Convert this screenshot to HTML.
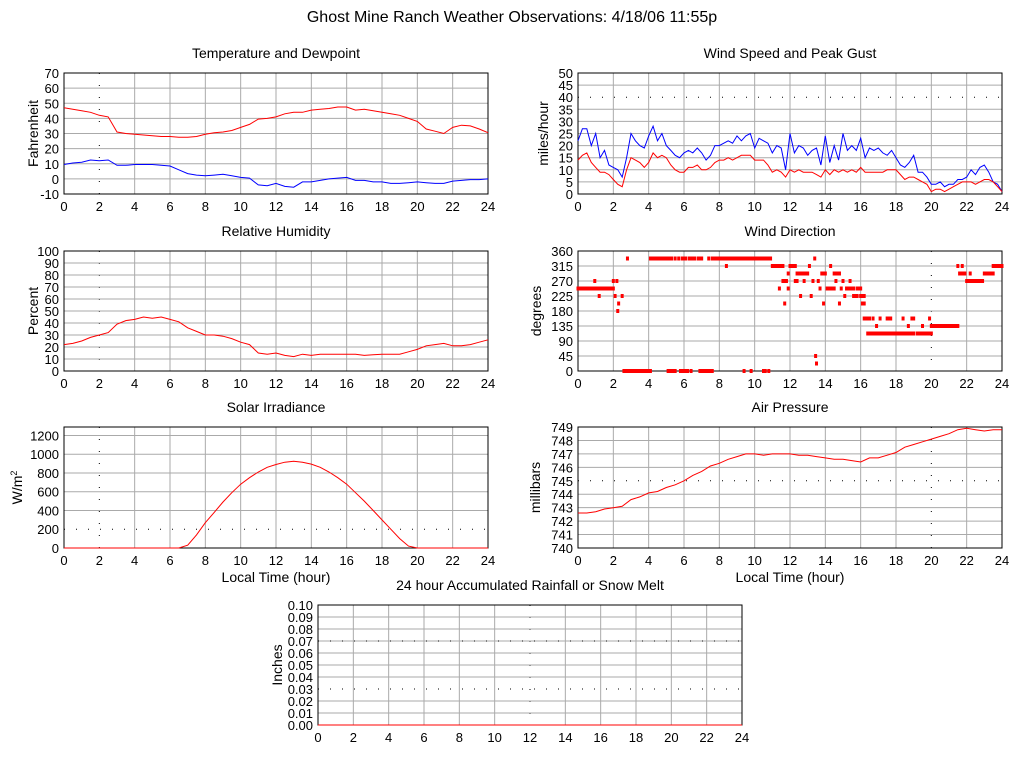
<!DOCTYPE html>
<html><head><meta charset="utf-8"><style>
html,body{margin:0;padding:0;background:#fff}
svg{display:block;font-family:"Liberation Sans",Arial,sans-serif}
</style></head><body>
<svg id="chart" width="1024" height="768" viewBox="0 0 1024 768" xmlns="http://www.w3.org/2000/svg">
<rect width="1024" height="768" fill="#fff"/>
<text x="512" y="22" text-anchor="middle" font-size="16">Ghost Mine Ranch Weather Observations: 4/18/06 11:55p</text>
</svg>
<script>
// ---- data ----
const hoursHalf = [0,0.5,1,1.5,2,2.5,3,3.5,4,4.5,5,5.5,6,6.5,7,7.5,8,8.5,9,9.5,10,10.5,11,11.5,12,12.5,13,13.5,14,14.5,15,15.5,16,16.5,17,17.5,18,18.5,19,19.5,20,20.5,21,21.5,22,22.5,23,23.5,24];
const temperature = [47,46,45,44,42,41,31,30,29.5,29,28.5,28,28,27.5,27.5,28,29.5,30.5,31,32,34,36,39.5,40,41,43,44,44,45.5,46,46.5,47.5,47.5,45.5,46,45,44,43,42,40,38,33,31.5,30,34,35.5,35,33,30.5];
const dewpoint = [9.5,10.5,11,12.5,12,12.5,9,9,9.5,9.5,9.5,9,8.5,6,3.5,2.5,2,2.5,3,2,1,0.5,-4,-4.5,-3,-5,-5.5,-2,-2,-1,0,0.5,1,-1,-1,-2,-2,-3,-3,-2.5,-2,-2.5,-3,-3,-1.5,-1,-0.5,-0.5,0];
const humidity = [22,23,25,28,30,32,39,42,43,45,44,45,43,41,36,33,30,30,29,27,24,22,15,14,15,13,12,14,13,14,14,14,14,14,13,13.5,14,14,14,16,18,21,22,23,21,21,22,24,26];
const solar = [0,0,0,0,0,0,0,0,0,0,0,0,0,0,30,140,270,380,490,590,680,750,810,860,890,915,925,915,895,860,810,750,680,590,500,400,300,200,100,20,0,0,0,0,0,0,0,0,0];
const pressure = [742.6,742.6,742.7,742.9,743,743.1,743.6,743.8,744.1,744.2,744.5,744.7,745,745.4,745.7,746.1,746.3,746.6,746.8,747,747,746.9,747,747,747,746.9,746.9,746.8,746.7,746.6,746.6,746.5,746.4,746.7,746.7,746.9,747.1,747.5,747.7,747.9,748.1,748.3,748.5,748.8,748.9,748.8,748.7,748.8,748.8];
const windGust = [22,27,27,20,25,15,18,12,11,10,7,15,25,22,20,19,24,28,22,25,20,18,16,15,17,18,17,19,17,14,16,20,20,21,22,21,24,22,24,25,19,23,22,21,17,20,19,10,25,17,20,19,16,18,19,12,24,13,20,14,25,18,20,18,23,15,19,18,19,17,16,18,15,12,11,13,16,9,9,7,4,4,5,3,4,4,6,6,7,10,8,11,12,9,5,4,1];
const windAvg = [14,16,17,13,11,9,9,8,6,4,3,10,15,14,13,11,13,17,15,16,15,12,10,9,9,11,11,12,10,10,11,13,14,14,15,14,15,16,16,16,14,14,14,12,9,10,9,7,10,9,10,9,9,9,8,7,10,8,10,9,10,9,10,9,11,9,9,9,9,9,10,10,10,8,6,7,7,6,5,4,1,2,2,1,2,3,4,5,5,5,4,5,6,6,5,3,1];
const dirStart = [0,0.95,1.2,2.0,2.1,2.2,2.25,2.3,2.5,2.8,2.6,4.1,5.5,5.7,5.9,6.3,6.8,7.4,7.6,8.4,5.1,5.8,6.4,6.9,9.4,9.8,10.5,10.8,11.0,11.4,11.6,11.7,11.9,11.9,12.0,12.3,12.4,12.6,12.7,12.8,13.1,13.2,13.3,13.4,13.45,13.5,13.6,13.7,13.8,13.9,14.1,14.3,14.5,14.6,14.8,14.9,15.0,15.1,15.2,15.4,15.6,15.8,16.0,16.1,16.2,16.4,16.5,16.7,16.9,17.1,17.5,18.0,18.4,18.7,18.9,19.0,19.2,19.5,19.7,19.9,20.0,21.5,21.6,21.75,22.0,22.2,23.0,23.5];
const dirEnd = [2.0,0.95,1.2,2.0,2.1,2.2,2.25,2.3,2.5,2.8,4.1,5.3,5.5,5.7,6.1,6.6,7.0,7.4,10.9,8.4,5.5,6.2,6.4,7.6,9.4,9.8,10.6,10.8,11.6,11.4,11.8,11.7,11.9,11.9,12.3,12.4,12.6,12.6,13.0,12.8,13.1,13.2,13.3,13.4,13.45,13.5,13.6,13.7,14.0,13.9,14.5,14.3,14.8,14.6,14.8,14.9,15.0,15.1,15.6,15.4,15.8,16.0,16.2,16.2,16.4,18.0,16.5,16.7,16.9,17.1,17.7,19.0,18.4,18.7,18.9,19.0,19.6,19.5,20.0,19.9,21.5,21.5,21.9,21.75,22.9,22.2,23.5,24];
const dirDeg = [247.5,270,225,270,225,270,180,202.5,225,337.5,0,337.5,337.5,337.5,337.5,337.5,337.5,337.5,337.5,315,0,0,0,0,0,0,0,0,315,247.5,270,202.5,292.5,247.5,315,270,292.5,225,292.5,270,315,225,270,337.5,45,22.5,270,247.5,292.5,202.5,247.5,315,292.5,270,202.5,247.5,270,225,247.5,270,225,247.5,225,202.5,157.5,112.5,157.5,157.5,135,157.5,157.5,112.5,157.5,135,157.5,157.5,112.5,135,112.5,157.5,135,315,292.5,315,270,292.5,292.5,315];
const hoursQuarter = windGust.map((_, i) => i * 0.25);
const rainfall = [0,0];
const rainHours = [0,24];
const xTickLabels = ['0','2','4','6','8','10','12','14','16','18','20','22','24'];

// ---- drawing helpers ----
const NS = 'http://www.w3.org/2000/svg';
const svg = document.getElementById('chart');
function mk(tag, attrs, parent) {
  const e = document.createElementNS(NS, tag);
  for (const k in attrs) e.setAttribute(k, attrs[k]);
  (parent || svg).appendChild(e);
  return e;
}

function panel(p) {
  const g = mk('g', {});
  
  
  const xs = h => p.x0 + (h / 24) * (p.x1 - p.x0);
  const ys = v => p.y1 - (v - p.ymin) / (p.ymax - p.ymin) * (p.y1 - p.y0);
  // grid
  xTickLabels.forEach((lab, i) => {
    const h = i * 2, x = xs(h);
    if (i > 0 && i < 12) {
      const dotted = p.dotX === h;
      const l = mk('line', {x1: x, x2: x, y1: p.y0, y2: p.y1, stroke: dotted ? '#000' : '#aaa', 'stroke-width': 1, 'stroke-dasharray': dotted ? '1,11' : 'none'}, g);
      
      
    }
    const t = mk('text', {x: x, y: p.y1 + 17, 'text-anchor': 'middle', 'font-size': 13}, g);
    
    
    t.textContent = lab;
  });
  p.yTicks.forEach(v => {
    const y = ys(v);
    if (p.gridY.includes(v) && v !== p.ymin && v !== p.ymax) {
      const dotted = p.dotY === v;
      const l = mk('line', {x1: p.x0, x2: p.x1, y1: y, y2: y, stroke: dotted ? '#000' : '#aaa', 'stroke-width': 1, 'stroke-dasharray': dotted ? '1,11' : 'none'}, g);
      
      
    }
    const t = mk('text', {x: p.x0 - 5, y: y + 5, 'text-anchor': 'end', 'font-size': 13}, g);
    
    
    t.textContent = p.fmt ? p.fmt(v) : String(v);
  });
  const b = mk('rect', {x: p.x0, y: p.y0, width: p.x1 - p.x0, height: p.y1 - p.y0, fill: 'none', stroke: '#000', 'stroke-width': 1}, g);
  
  
  const tt = mk('text', {x: (p.x0 + p.x1) / 2, y: p.y0 - 15, 'text-anchor': 'middle', 'font-size': 14}, g);
  
  
  tt.textContent = p.title;
  const yl = mk('text', {x: 0, y: 0, 'text-anchor': 'middle', 'font-size': 14, transform: 'translate(' + p.ylx + ',' + ((p.y0 + p.y1) / 2) + ') rotate(-90)'}, g);
  
  
  if (p.ylabelHTML) {
    yl.textContent = 'W/m';
    const sup = mk('tspan', {dy: -5, 'font-size': 9}, yl);
    sup.textContent = '2';
  } else yl.textContent = p.ylabel;
  if (p.xlabel) {
    const xl = mk('text', {x: (p.x0 + p.x1) / 2, y: p.y1 + 34, 'text-anchor': 'middle', 'font-size': 14}, g);
    
    
    xl.textContent = p.xlabel;
  }
  return {g, xs, ys};
}

function line(pn, hours, vals, color, name) {
  const pts = vals.map((v, i) => pn.xs(hours[i]).toFixed(1) + ',' + pn.ys(v).toFixed(1)).join(' ');
  const l = mk('polyline', {points: pts, fill: 'none', stroke: color, 'stroke-width': 1}, pn.g);
  
  
}

const L0 = 64, L1 = 488, R0 = 578, R1 = 1002;
const range = (a, b, s) => { const r = []; for (let v = a; v <= b + 1e-9; v += s) r.push(Math.round(v * 100) / 100); return r; };

// Temperature
const pT = panel({name: 'temperature-panel', title: 'Temperature and Dewpoint', x0: L0, x1: L1, y0: 73, y1: 194, ymin: -10, ymax: 70, yTicks: range(-10, 70, 10), gridY: range(-10, 70, 10), dotX: 2, ylabel: 'Fahrenheit', ylx: 38});
line(pT, hoursHalf, temperature, '#f00', 'temperature-line');
line(pT, hoursHalf, dewpoint, '#00f', 'dewpoint-line');

// Wind speed
const pW = panel({name: 'wind-speed-panel', title: 'Wind Speed and Peak Gust', x0: R0, x1: R1, y0: 73, y1: 194, ymin: 0, ymax: 50, yTicks: range(0, 50, 5), gridY: range(0, 50, 5), dotY: 40, ylabel: 'miles/hour', ylx: 548});
line(pW, hoursQuarter, windGust, '#00f', 'peak-gust-line');
line(pW, hoursQuarter, windAvg, '#f00', 'wind-speed-line');

// Humidity
const pH = panel({name: 'humidity-panel', title: 'Relative Humidity', x0: L0, x1: L1, y0: 251, y1: 371, ymin: 0, ymax: 100, yTicks: range(0, 100, 10), gridY: range(0, 100, 10), dotX: 2, ylabel: 'Percent', ylx: 38});
line(pH, hoursHalf, humidity, '#f00', 'humidity-line');

// Wind direction
const pD = panel({name: 'wind-direction-panel', title: 'Wind Direction', x0: R0, x1: R1, y0: 251, y1: 371, ymin: 0, ymax: 360, yTicks: range(0, 360, 45), gridY: range(0, 360, 45), dotX: 20, ylabel: 'degrees', ylx: 541});
dirDeg.forEach((d, i) => {
  const x = pD.xs(dirStart[i]) - 1.5, w = pD.xs(dirEnd[i]) - pD.xs(dirStart[i]) + 3;
  const r = mk('rect', {x: x, y: pD.ys(d) - 2, width: w, height: 4, fill: '#f00'}, pD.g);
  
  
});

// Solar
const pS = panel({name: 'solar-panel', title: 'Solar Irradiance', x0: L0, x1: L1, y0: 427, y1: 548, ymin: 0, ymax: 1290, yTicks: range(0, 1200, 200), gridY: range(0, 1200, 200), dotX: 2, dotY: 200, ylabelHTML: true, ylx: 22, xlabel: 'Local Time (hour)'});
line(pS, hoursHalf, solar, '#f00', 'solar-line');

// Pressure
const pP = panel({name: 'pressure-panel', title: 'Air Pressure', x0: R0, x1: R1, y0: 427, y1: 548, ymin: 740, ymax: 749, yTicks: range(740, 749, 1), gridY: range(740, 749, 1), dotX: 20, dotY: 745, ylabel: 'millibars', ylx: 540, xlabel: 'Local Time (hour)'});
line(pP, hoursHalf, pressure, '#f00', 'pressure-line');

// Rain
const pR = panel({name: 'rainfall-panel', title: '24 hour Accumulated Rainfall or Snow Melt', x0: 318, x1: 742, y0: 605, y1: 725, ymin: 0, ymax: 0.1, yTicks: range(0, 0.1, 0.01), gridY: range(0, 0.1, 0.01), dotX: 12, dotY: 0.03, fmt: v => v.toFixed(2), ylabel: 'Inches', ylx: 282});
mk('line', {x1: 318, x2: 742, y1: pR.ys(0.07), y2: pR.ys(0.07), stroke: '#000', 'stroke-dasharray': '1,11'}, pR.g);
line(pR, rainHours, rainfall, '#f00', 'rainfall-line');
</script>
</body></html>
